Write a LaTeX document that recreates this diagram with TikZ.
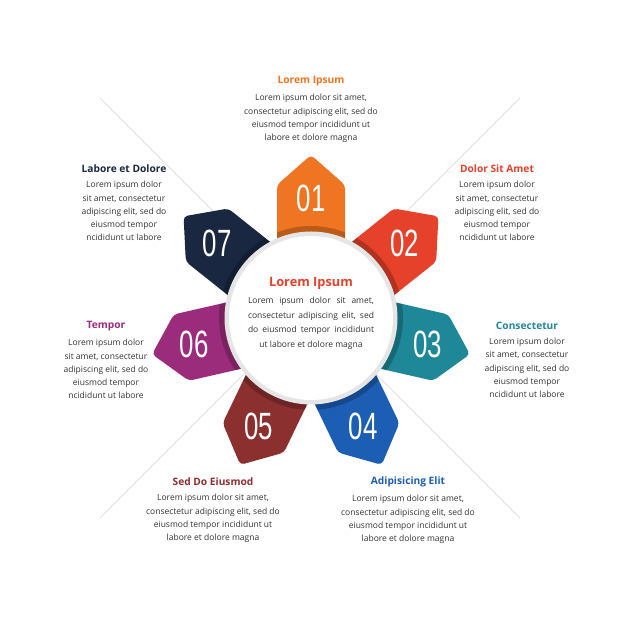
\documentclass[tikz,border=0pt]{standalone}
\usepackage{fontspec}
\setmainfont{Open Sans}
\newfontfamily\numfont{Liberation Sans}
\usepackage{graphicx}
\usepackage{tikz}
\usetikzlibrary{positioning,calc}
\definecolor{cOne}{HTML}{F07522}
\definecolor{cTwo}{HTML}{E5412B}
\definecolor{cThree}{HTML}{1E8798}
\definecolor{cFour}{HTML}{1B5EB3}
\definecolor{cFive}{HTML}{8C2F2F}
\definecolor{cSix}{HTML}{9B2C7C}
\definecolor{cSeven}{HTML}{1A2741}
\definecolor{txtgray}{HTML}{333333}
\newcommand{\numtxt}[1]{\scalebox{0.68}[1]{\numfont\fontsize{38}{38}\selectfont #1}}

\begin{document}
\begin{tikzpicture}[x=1pt,y=1pt,
    title/.style={font=\bfseries\fontsize{10.2}{12}\selectfont, inner sep=0pt},
    body/.style={font=\fontsize{8.5}{13.3}\selectfont, text=txtgray, align=center, inner sep=0pt},
    num/.style={text=white, inner sep=0pt}]
  \useasboundingbox[fill=white] (0,0) rectangle (620,620);
  \coordinate (c) at (311,302);
  \coordinate (xa) at (100,522);
  \coordinate (xb) at (520,102);
  \coordinate (xc) at (100,102);
  \coordinate (xd) at (520,522);
  \draw[gray!30, line width=0.5pt] (xa) -- (xb);
  \draw[gray!30, line width=0.5pt] (xc) -- (xd);
  % petals
  \foreach \a/\n/\col in {90/01/cOne, 38.571/02/cTwo, -12.857/03/cThree,
      -64.286/04/cFour, -115.714/05/cFive, -167.143/06/cSix, 141.429/07/cSeven} {
    \begin{scope}[shift={(c)}, rotate=\a-90]
      \fill[\col, rounded corners=4pt] (-34,60) -- (-34,133) -- (0,163) -- (34,133) -- (34,60) -- cycle;
      \begin{scope}
        \clip (-34,60) -- (-34,133) -- (0,163) -- (34,133) -- (34,60) -- cycle;
        \fill[black, opacity=.22] (0,0) circle (92);
      \end{scope}
      \node[num] (n\n) at (0,120) {\numtxt{\n}};
    \end{scope}
  }
  % ring
  \fill[gray!20] (c) circle (86.5);
  \fill[white] (c) circle (82);
  \node[title, text=cTwo, font=\bfseries\fontsize{12.8}{14}\selectfont] (t0) at (311,337) {Lorem Ipsum};
  \node[body, font=\fontsize{8.5}{14.5}\selectfont, below=8pt of t0] (b0) {%
    \makebox[126pt][s]{Lorem ipsum dolor sit amet,}\\
    \makebox[126pt][s]{consectetur adipiscing elit, sed}\\
    \makebox[126pt][s]{do eiusmod tempor incididunt}\\
    ut labore et dolore magna};
  % texts
  \node[title, text=cOne] (t1) at (311,539) {Lorem Ipsum};
  \node[body, below=8pt of t1] (b1) {Lorem ipsum dolor sit amet,\\consectetur adipiscing elit, sed do\\eiusmod tempor incididunt ut\\labore et dolore magna};
  \node[title, text=cTwo] (t2) at (497,451) {Dolor Sit Amet};
  \node[body, below=8pt of t2] (b2) {Lorem ipsum dolor\\sit amet, consectetur\\adipiscing elit, sed do\\eiusmod tempor\\ncididunt ut labore};
  \node[title, text=cThree] (t3) at (527,294) {Consectetur};
  \node[body, below=8pt of t3] (b3) {Lorem ipsum dolor\\sit amet, consectetur\\adipiscing elit, sed do\\eiusmod tempor\\ncididunt ut labore};
  \node[title, text=cFour] (t4) at (408,138) {Adipisicing Elit};
  \node[body, below=8pt of t4] (b4) {Lorem ipsum dolor sit amet,\\consectetur adipiscing elit, sed do\\eiusmod tempor incididunt ut\\labore et dolore magna};
  \node[title, text=cFive] (t5) at (213,138) {Sed Do Eiusmod};
  \node[body, below=8pt of t5] (b5) {Lorem ipsum dolor sit amet,\\consectetur adipiscing elit, sed do\\eiusmod tempor incididunt ut\\labore et dolore magna};
  \node[title, text=cSix] (t6) at (106,294) {Tempor};
  \node[body, below=8pt of t6] (b6) {Lorem ipsum dolor\\sit amet, consectetur\\adipiscing elit, sed do\\eiusmod tempor\\ncididunt ut labore};
  \node[title, text=cSeven] (t7) at (124,451) {Labore et Dolore};
  \node[body, below=8pt of t7] (b7) {Lorem ipsum dolor\\sit amet, consectetur\\adipiscing elit, sed do\\eiusmod tempor\\ncididunt ut labore};
\end{tikzpicture}
\end{document}
